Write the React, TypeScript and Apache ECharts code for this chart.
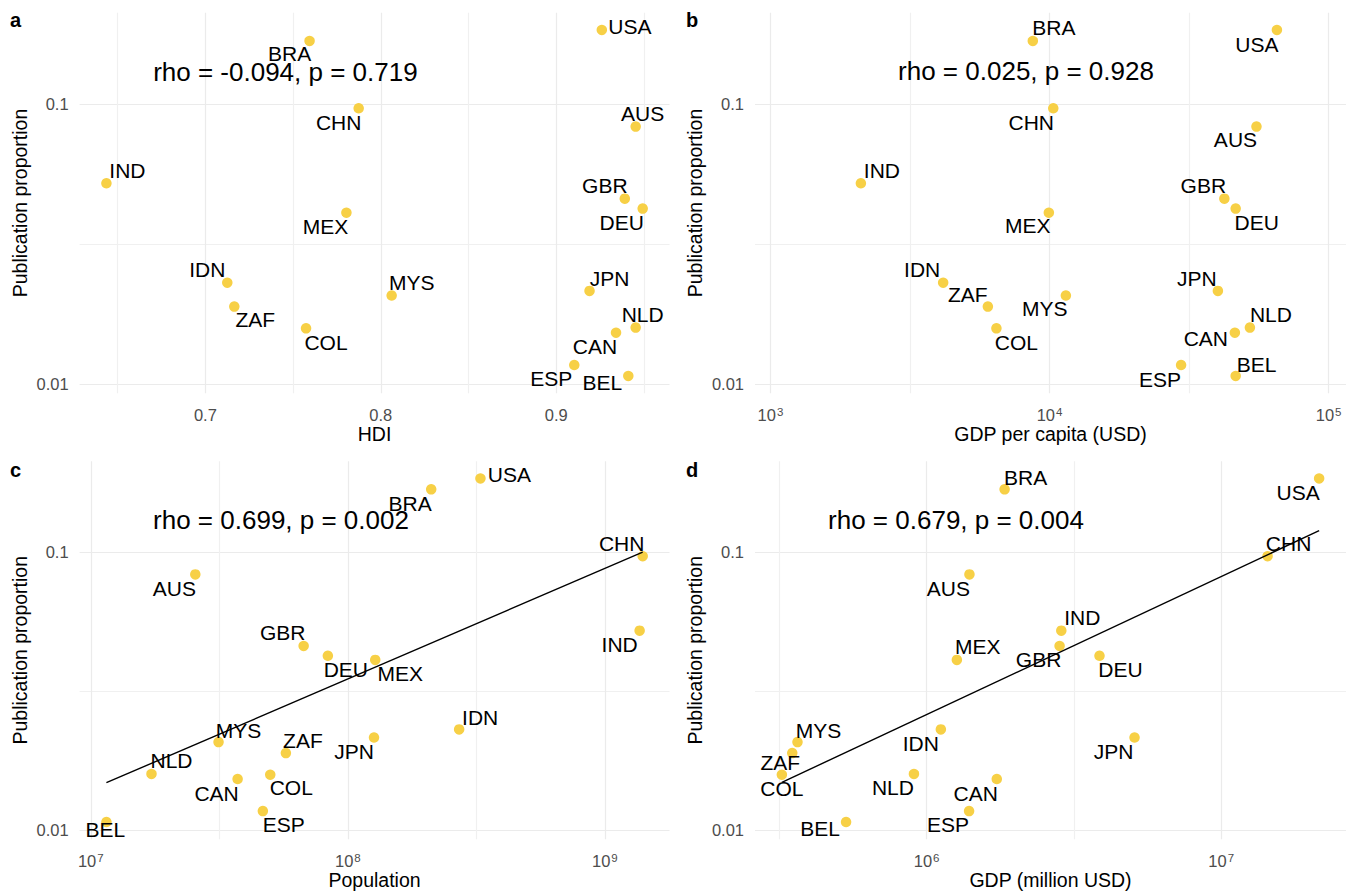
import React, { useEffect, useRef } from "react";
import * as echarts from "echarts";

// ---------------- data ----------------
const countries = ["USA", "BRA", "CHN", "AUS", "IND", "GBR", "DEU", "MEX", "IDN", "ZAF", "MYS", "COL", "JPN", "NLD", "CAN", "ESP", "BEL"];
const pubProportion = [0.1837, 0.1679, 0.0965, 0.083, 0.0521, 0.0459, 0.0423, 0.0409, 0.023, 0.0189, 0.0207, 0.0158, 0.0215, 0.0159, 0.01525, 0.01169, 0.01068];
const hdi = [0.926, 0.7594, 0.7874, 0.9453, 0.6436, 0.9391, 0.9493, 0.7804, 0.7125, 0.7165, 0.8062, 0.7574, 0.919, 0.9453, 0.9341, 0.9103, 0.9411];
const gdpPerCapita = [65260, 8710, 10310, 55130, 2108, 42300, 46440, 9940, 4156, 6010, 11440, 6450, 40100, 52220, 46130, 29600, 46440];
const population = [3.28e8, 2.11e8, 1.403e9, 2.55e7, 1.365e9, 6.73e7, 8.36e7, 1.278e8, 2.71e8, 5.74e7, 3.14e7, 4.99e7, 1.264e8, 1.722e7, 3.725e7, 4.67e7, 1.15e7];
const gdpMillion = [2.15e7, 1.84e6, 1.437e7, 1.398e6, 2.866e6, 2.828e6, 3.863e6, 1.267e6, 1.118e6, 3.5e5, 3.646e5, 3.227e5, 5.08e6, 9.06e5, 1.731e6, 1.394e6, 5.33e5];

const rhoTexts = ["rho = -0.094, p = 0.719", "rho = 0.025, p = 0.928", "rho = 0.699, p = 0.002", "rho = 0.679, p = 0.004"];
const panelLetters = ["a", "b", "c", "d"];
const xTitles = ["HDI", "GDP per capita (USD)", "Population", "GDP (million USD)"];
const yTitle = "Publication proportion";

// fitted (log-log) regression lines
const fitPopX = [1.15e7, 1.403e9];
const fitPopY = [0.01479, 0.0998];
const fitGdpX = [3.227e5, 2.15e7];
const fitGdpY = [0.01483, 0.1193];

// tick values
const yTickValues = [0.01, 0.1];
const hdiTickValues = [0.7, 0.8, 0.9];
const gdpPcTickExp = [3, 4, 5];
const popTickExp = [7, 8, 9];
const gdpTickExp = [6, 7];
const gdpPcLimits = [880, 115400];

// ---------------- layout (not data) ----------------
const FONT = "'Liberation Sans', Arial, Helvetica, sans-serif";
const POINT = "#F7D046";
const GRID_MAJOR = "#EBEBEB";
const GRID_MINOR = "#F0F0F0";
const SYM = 10.5;

type Off = Record<string, [number, number]>;
const offA: Off = { USA: [28, -4], BRA: [-20, 13], CHN: [-20, 14], AUS: [7, -13], IND: [21, -13], GBR: [-20, -13], DEU: [-21, 14], MEX: [-21, 14], IDN: [-20, -13], ZAF: [21, 13], MYS: [20, -13], COL: [20, 14], JPN: [20, -12], NLD: [7, -13], CAN: [-21, 14], ESP: [-23, 13], BEL: [-26, 6] };
const offB: Off = { BRA: [21, -13], USA: [-20, 14], CHN: [-22, 14], AUS: [-21, 13], IND: [21, -13], GBR: [-21, -13], DEU: [21, 14], MEX: [-21, 13], IDN: [-21, -13], ZAF: [-20, -12], MYS: [-21, 13], COL: [20, 14], JPN: [-21, -12], NLD: [21, -13], CAN: [-29, 6], ESP: [-21, 14], BEL: [21, -12] };
const offC: Off = { USA: [29, -4], BRA: [-21, 14], CHN: [-21, -13], AUS: [-21, 14], IND: [-20, 14], GBR: [-21, -13], DEU: [18, 14], MEX: [25, 14], IDN: [21, -12], JPN: [-20, 14], MYS: [20, -12], ZAF: [17, -13], NLD: [20, -13], CAN: [-21, 14], COL: [21, 13], ESP: [21, 13], BEL: [-1, 7] };
const offD: Off = { BRA: [21, -12], USA: [-21, 14], CHN: [21, -13], AUS: [-21, 14], IND: [21, -13], GBR: [-21, 14], DEU: [21, 14], MEX: [21, -13], IDN: [-20, 14], JPN: [-21, 14], MYS: [21, -12], ZAF: [-12, 9], COL: [0, 14], NLD: [-21, 14], CAN: [-21, 14], ESP: [-21, 13], BEL: [-26, 6] };

const lg = (v: number) => Math.log10(v);
const expand = (vals: number[]): [number, number] => {
  const mn = Math.min(...vals);
  const mx = Math.max(...vals);
  const e = (mx - mn) * 0.05;
  return [mn - e, mx + e];
};
const halfSteps = (lo: number, hi: number, step: number) => {
  const out: number[] = [];
  for (let v = Math.ceil(lo / step) * step; v <= hi + 1e-9; v += step) out.push(+v.toFixed(6));
  return out;
};

const grids = [
  { left: 79.6, top: 12.7, width: 589.9, height: 380.6 },
  { left: 755, top: 12.7, width: 591, height: 380.6 },
  { left: 79.6, top: 461.3, width: 589.9, height: 377.9 },
  { left: 755, top: 461.3, width: 591, height: 377.9 },
];

export default function App() {
  const ref = useRef<HTMLDivElement>(null);
  useEffect(() => {
    if (!ref.current) return;
    const chart = echarts.init(ref.current, null, { renderer: "svg" });

    const yLog = pubProportion.map(lg);
    const yExt = expand(yLog);
    const yMinor = halfSteps(yExt[0], yExt[1], 0.5);
    const yMajor = yTickValues.map(lg);

    const xExts: [number, number][] = [
      expand(hdi),
      [lg(gdpPcLimits[0]), lg(gdpPcLimits[1])],
      expand(population.map(lg)),
      expand(gdpMillion.map(lg)),
    ];
    const xTickAll = [
      halfSteps(xExts[0][0], xExts[0][1], 0.05),
      halfSteps(xExts[1][0], xExts[1][1], 0.5),
      halfSteps(xExts[2][0], xExts[2][1], 0.5),
      halfSteps(xExts[3][0], xExts[3][1], 0.5),
    ];
    const xTickMajor = [hdiTickValues, gdpPcTickExp, popTickExp, gdpTickExp];
    const xVals = [hdi, gdpPerCapita.map(lg), population.map(lg), gdpMillion.map(lg)];
    const offs = [offA, offB, offC, offD];

    const majorFirst = (vals: number[], majors: number[]) =>
      vals.map((v) => (majors.some((m) => Math.abs(m - v) < 1e-6) ? GRID_MAJOR : GRID_MINOR));

    const xAxis: any[] = [];
    const yAxis: any[] = [];
    const series: any[] = [];

    for (let p = 0; p < 4; p++) {
      const isLog = p > 0;
      xAxis.push({
        type: "value",
        gridIndex: p,
        min: xExts[p][0],
        max: xExts[p][1],
        name: xTitles[p],
        nameLocation: "middle",
        nameGap: p < 2 ? 29 : 31,
        nameTextStyle: { fontSize: 19.5, color: "#000", fontFamily: FONT },
        axisLine: { show: false, onZero: false },
        axisTick: { show: false, customValues: xTickAll[p] },
        splitLine: { show: true, lineStyle: { width: 1.2, color: majorFirst(xTickAll[p], xTickMajor[p]) } },
        axisLabel: {
          customValues: xTickMajor[p],
          margin: 13,
          color: "#4D4D4D",
          fontSize: 16.5,
          fontFamily: FONT,
          formatter: isLog
            ? (v: number) => `{base|10}{sup|${Math.round(v)}}`
            : (v: number) => v.toFixed(1),
          rich: isLog
            ? {
                base: { fontSize: 16.5, color: "#4D4D4D", fontFamily: FONT },
                sup: { fontSize: 11.5, color: "#4D4D4D", fontFamily: FONT, verticalAlign: "top", padding: [0, 0, 0, 1] },
              }
            : undefined,
        },
      });
      yAxis.push({
        type: "value",
        gridIndex: p,
        min: yExt[0],
        max: yExt[1],
        name: yTitle,
        nameLocation: "middle",
        nameGap: 50,
        nameTextStyle: { fontSize: 19.5, color: "#000", fontFamily: FONT },
        axisLine: { show: false, onZero: false },
        axisTick: { show: false, customValues: yMinor },
        splitLine: { show: true, lineStyle: { width: 1.2, color: majorFirst(yMinor, yMajor) } },
        axisLabel: {
          customValues: yMajor,
          margin: 11,
          color: "#4D4D4D",
          fontSize: 16.5,
          fontFamily: FONT,
          formatter: (v: number) => String(+Math.pow(10, v).toPrecision(1)),
        },
      });

      if (p === 2 || p === 3) {
        const fx = p === 2 ? fitPopX : fitGdpX;
        const fy = p === 2 ? fitPopY : fitGdpY;
        series.push({
          type: "line",
          xAxisIndex: p,
          yAxisIndex: p,
          data: fx.map((x, i) => [lg(x), lg(fy[i])]),
          showSymbol: false,
          symbol: "none",
          silent: true,
          z: 3,
          lineStyle: { color: "#000", width: 1.4 },
        });
      }

      series.push({
        type: "scatter",
        xAxisIndex: p,
        yAxisIndex: p,
        symbolSize: SYM,
        z: 2,
        itemStyle: { color: POINT, opacity: 1 },
        label: {
          show: true,
          formatter: "{b}",
          color: "#000",
          fontSize: 21,
          fontFamily: FONT,
          align: "center",
          verticalAlign: "middle",
          textBorderWidth: 0,
        },
        data: countries.map((c, i) => {
          const o = offs[p][c];
          return {
            name: c,
            value: [xVals[p][i], yLog[i]],
            label: { show: true, position: [SYM / 2 + o[0], SYM / 2 + o[1]], align: "center", verticalAlign: "middle" },
          };
        }),
      });
    }

    const annPos = [
      [285.4, 71.5],
      [1026, 70.7],
      [281, 520.3],
      [956, 520.3],
    ];
    const letterPos = [
      [10, 20],
      [686, 20],
      [10, 469.5],
      [686, 469.5],
    ];
    const graphic: any[] = [];
    for (let p = 0; p < 4; p++) {
      graphic.push({
        type: "text",
        x: annPos[p][0],
        y: annPos[p][1],
        style: { text: rhoTexts[p], fontSize: 26, fontFamily: FONT, fill: "#000", align: "center", verticalAlign: "middle" },
        z: 10,
      });
      graphic.push({
        type: "text",
        x: letterPos[p][0],
        y: letterPos[p][1],
        style: { text: panelLetters[p], fontSize: 20, fontWeight: "bold", fontFamily: FONT, fill: "#000", align: "left", verticalAlign: "middle" },
        z: 10,
      });
    }

    chart.setOption({
      animation: false,
      backgroundColor: "#fff",
      grid: grids.map((g) => ({ ...g, containLabel: false, outerBoundsMode: "none" })),
      xAxis,
      yAxis,
      series,
      graphic,
    });
    return () => chart.dispose();
  }, []);

  return <div ref={ref} style={{ position: "fixed", left: 0, top: 0, width: 1352, height: 892, background: "#fff" }} />;
}
